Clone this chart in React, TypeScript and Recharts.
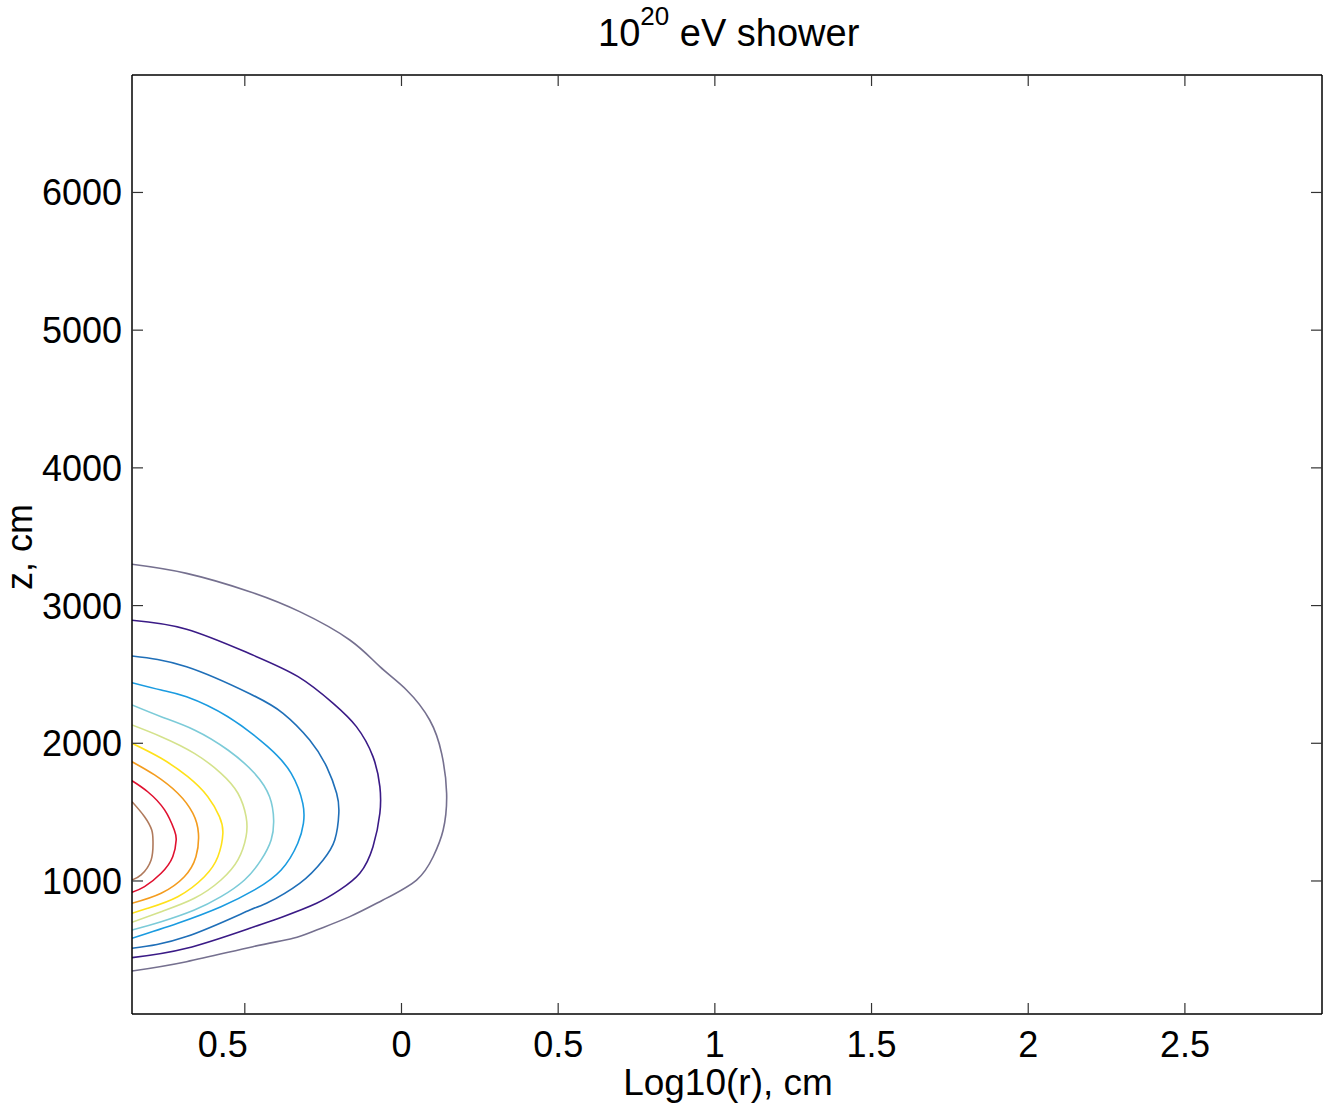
import React from "react";
import { LineChart, Line, XAxis, YAxis } from "recharts";

const xTicks = [-0.5, 0, 0.5, 1, 1.5, 2, 2.5];
const yTicks = [1000, 2000, 3000, 4000, 5000, 6000];
const xDomain = [-0.86, 2.9375];
const yDomain = [34, 6853];

type P = { x: number; z: number };
const mk = (a: number[][]): P[] => a.map(([x, z]) => ({ x, z }));

const c1 = mk([[-0.86,3300],[-0.686,3234],[-0.484,3101],[-0.325,2956],[-0.165,2750],[-0.069,2556],[0.016,2387],[0.09,2169],[0.128,1927],[0.144,1637],[0.133,1370],[0.101,1176],[0.048,1007],[-0.059,862],[-0.165,741],[-0.271,644],[-0.346,584],[-0.474,523],[-0.686,414],[-0.86,346]]);
const c2 = mk([[-0.86,2893],[-0.686,2828],[-0.484,2650],[-0.33,2484],[-0.218,2290],[-0.144,2121],[-0.091,1903],[-0.069,1685],[-0.069,1492],[-0.091,1249],[-0.133,1056],[-0.197,935],[-0.271,838],[-0.378,741],[-0.484,657],[-0.686,511],[-0.86,443]]);
const c3 = mk([[-0.86,2634],[-0.686,2556],[-0.484,2360],[-0.378,2218],[-0.293,2024],[-0.239,1830],[-0.207,1637],[-0.2,1492],[-0.213,1298],[-0.25,1153],[-0.325,983],[-0.431,838],[-0.484,789],[-0.686,596],[-0.86,511]]);
const c4 = mk([[-0.86,2440],[-0.767,2387],[-0.686,2338],[-0.554,2193],[-0.427,1975],[-0.352,1782],[-0.315,1564],[-0.313,1419],[-0.331,1274],[-0.384,1080],[-0.469,935],[-0.576,813],[-0.714,693],[-0.86,584]]);
const c5 = mk([[-0.86,2278],[-0.767,2193],[-0.661,2097],[-0.554,1951],[-0.469,1782],[-0.421,1612],[-0.408,1443],[-0.416,1298],[-0.448,1153],[-0.501,1007],[-0.576,886],[-0.661,789],[-0.767,704],[-0.86,644]]);
const c6 = mk([[-0.86,2133],[-0.767,2048],[-0.661,1927],[-0.576,1782],[-0.522,1637],[-0.496,1467],[-0.496,1322],[-0.522,1153],[-0.576,1007],[-0.661,874],[-0.767,777],[-0.86,700]]);
const c7 = mk([[-0.86,2000],[-0.767,1891],[-0.682,1757],[-0.618,1612],[-0.581,1467],[-0.57,1346],[-0.586,1176],[-0.629,1031],[-0.714,886],[-0.81,802],[-0.86,765]]);
const c8 = mk([[-0.86,1866],[-0.788,1770],[-0.714,1637],[-0.666,1492],[-0.648,1346],[-0.656,1176],[-0.693,1031],[-0.767,911],[-0.86,838]]);
const c9 = mk([[-0.86,1728],[-0.81,1648],[-0.756,1516],[-0.725,1370],[-0.719,1298],[-0.73,1176],[-0.767,1056],[-0.82,959],[-0.86,918]]);
const c10 = mk([[-0.86,1576],[-0.82,1467],[-0.797,1370],[-0.793,1285],[-0.799,1153],[-0.831,1044],[-0.86,1007]]);

const contours = [c1, c2, c3, c4, c5, c6, c7, c8, c9, c10];
const colors = ["#75708f", "#3a1a86", "#1f6fb8", "#1a9be0", "#7ccbd8", "#d4e28c", "#ffe11a", "#f39c1e", "#e0102f", "#b07a5c"];

const FONT = '"Liberation Sans", Arial, Helvetica, sans-serif';
const W = 1331;
const H = 1109;

const fmtX = (v: number) => String(Math.abs(v));

const BottomTick = (props: any) => {
  const { x, y, payload } = props;
  const v = payload.value as number;
  return (
    <g>
      <line x1={x} x2={x} y1={y} y2={y - 11} stroke="#333" strokeWidth={1.2} />
      <text x={v < 0 ? x - 22 : x} y={y + 43} textAnchor="middle" fontSize={36} fontFamily={FONT} fill="#000">
        {fmtX(v)}
      </text>
    </g>
  );
};
const TopTick = (props: any) => {
  const { x, y } = props;
  return <line x1={x} x2={x} y1={y} y2={y + 11} stroke="#333" strokeWidth={1.2} />;
};
const LeftTick = (props: any) => {
  const { x, y, payload } = props;
  return (
    <g>
      <line x1={x} x2={x + 11} y1={y} y2={y} stroke="#333" strokeWidth={1.2} />
      <text x={x - 10} y={y + 13} textAnchor="end" fontSize={36} fontFamily={FONT} fill="#000">
        {payload.value}
      </text>
    </g>
  );
};
const RightTick = (props: any) => {
  const { x, y } = props;
  return <line x1={x} x2={x - 11} y1={y} y2={y} stroke="#333" strokeWidth={1.2} />;
};

export default function App() {
  return (
    <div style={{ position: "absolute", left: 0, top: 0, width: W, height: H, background: "#fff" }}>
      <LineChart width={W} height={H} margin={{ top: 74, right: 8, bottom: 35, left: 32 }}>
        <XAxis
          xAxisId="b"
          type="number"
          dataKey="x"
          domain={xDomain}
          ticks={xTicks}
          allowDataOverflow
          orientation="bottom"
          height={60}
          tickSize={0}
          tickMargin={0}
          tickLine={false}
          axisLine={{ stroke: "#000", strokeWidth: 1.5 }}
          tick={<BottomTick />}
          interval={0}
        />
        <XAxis
          xAxisId="t"
          type="number"
          dataKey="x"
          domain={xDomain}
          ticks={xTicks}
          allowDataOverflow
          orientation="top"
          height={1}
          tickSize={0}
          tickMargin={0}
          tickLine={false}
          axisLine={{ stroke: "#000", strokeWidth: 1.5 }}
          tick={<TopTick />}
          interval={0}
        />
        <YAxis
          yAxisId="l"
          type="number"
          dataKey="z"
          domain={yDomain}
          ticks={yTicks}
          allowDataOverflow
          orientation="left"
          width={100}
          tickSize={0}
          tickMargin={0}
          tickLine={false}
          axisLine={{ stroke: "#000", strokeWidth: 1.5 }}
          tick={<LeftTick />}
          interval={0}
        />
        <YAxis
          yAxisId="r"
          type="number"
          dataKey="z"
          domain={yDomain}
          ticks={yTicks}
          allowDataOverflow
          orientation="right"
          width={1}
          tickSize={0}
          tickMargin={0}
          tickLine={false}
          axisLine={{ stroke: "#000", strokeWidth: 1.5 }}
          tick={<RightTick />}
          interval={0}
        />
        {contours.map((c, i) => (
          <Line
            key={i}
            xAxisId="b"
            yAxisId="l"
            data={c}
            dataKey="z"
            type="natural"
            stroke={colors[i]}
            strokeWidth={1.6}
            dot={false}
            activeDot={false}
            isAnimationActive={false}
          />
        ))}
      </LineChart>
      <svg width={W} height={H} style={{ position: "absolute", left: 0, top: 0, pointerEvents: "none" }}>
        <text x={598} y={46} fontSize={38} fontFamily={FONT} fill="#000">
          <tspan>10</tspan>
          <tspan dy={-21} fontSize={26}>20</tspan>
          <tspan dy={21}> eV shower</tspan>
        </text>
        <text x={728} y={1095} textAnchor="middle" fontSize={37} fontFamily={FONT} fill="#000">
          Log10(r), cm
        </text>
        <text
          x={0}
          y={0}
          transform="translate(32,547) rotate(-90)"
          textAnchor="middle"
          fontSize={36}
          fontFamily={FONT}
          fill="#000"
        >
          z, cm
        </text>
      </svg>
    </div>
  );
}
